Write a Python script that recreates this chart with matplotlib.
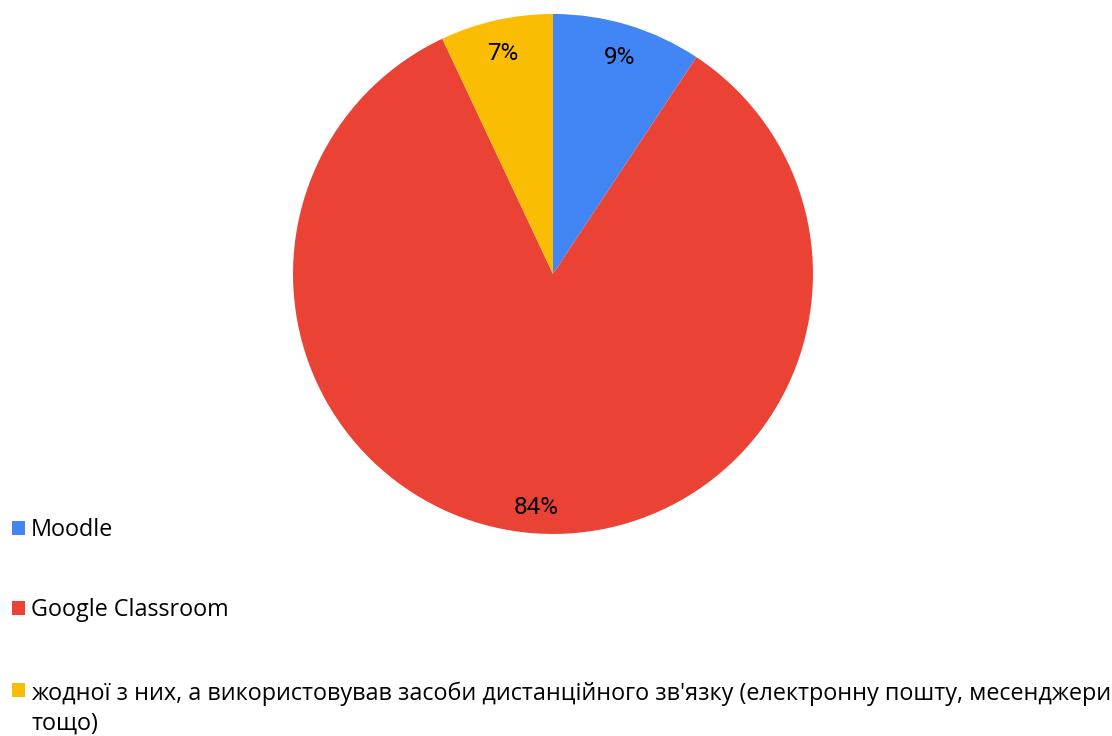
import matplotlib
matplotlib.use("Agg")
import matplotlib.pyplot as plt
from matplotlib.patches import Rectangle
from matplotlib.transforms import ScaledTranslation

labels = ["Moodle", "Google Classroom",
          "жодної з них, а використовував засоби дистанційного зв'язку (електронну пошту, месенджери\nтощо)"]
values = [9.3, 83.7, 7.0]
colors = ["#4285F4", "#EA4335", "#FBBC04"]

fig = plt.figure(figsize=(11.12, 7.36), dpi=100)
ax = fig.add_axes([0.2635, 0.2745, 0.4676, 0.7065])
wedges, texts, autotexts = ax.pie(values, colors=colors, startangle=90, counterclock=False,
                                  autopct="%.0f%%", pctdistance=0.885,
                                  wedgeprops=dict(linewidth=0),
                                  textprops=dict(fontsize=17.5, family="Roboto", color="black"))
for t in autotexts:
    t.set_transform(t.get_transform() + ScaledTranslation(0, -0.04, fig.dpi_scale_trans))
ax.set_xlim(-1, 1)
ax.set_ylim(-1, 1)
ax.set_aspect("equal")

ys = [0.2826, 0.1739, 0.0625]
for w, lab, y in zip(wedges, labels, ys):
    fig.patches.append(Rectangle((0.0108, y - 0.0095), 0.0117, 0.019, transform=fig.transFigure,
                                 facecolor=w.get_facecolor(), edgecolor="none"))
    if "\n" in lab:
        fig.text(0.0279, y + 0.0110, lab, fontsize=16.85, family="Open Sans", va="top",
                 ha="left", linespacing=1.3)
    else:
        fig.text(0.0279, y - 0.0027, lab, fontsize=16.85, family="Open Sans", va="center", ha="left")

fig.savefig("out.png", dpi=100)
